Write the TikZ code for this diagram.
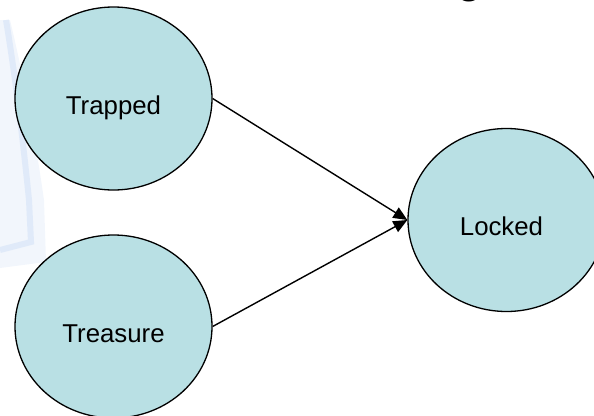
\documentclass[tikz,border=0pt]{standalone}
\usepackage{fontspec}
\setmainfont{Liberation Sans}
\usetikzlibrary{shapes.geometric,arrows.meta}
\definecolor{bubble}{RGB}{185,224,228}
\definecolor{wmark}{RGB}{224,234,249}
\definecolor{wmarklight}{RGB}{242,246,252}

\begin{document}
\begin{tikzpicture}[x=1pt,y=-1pt,
  state/.style={ellipse,draw=black,line width=1.3pt,fill=bubble,
    minimum width=197pt,minimum height=183pt,inner sep=0pt},
  caption/.style={font=\fontsize{25.8}{30}\selectfont,
    text height=31pt,text depth=0pt,inner sep=0pt},
  link/.style={line width=1.4pt,-{Triangle[length=14pt,width=12pt]}}]

  \useasboundingbox (0,0) rectangle (594,415);
  \clip (0,0) rectangle (594,415);

  % faint backdrop mark on the left
  \fill[wmarklight] (0,20) -- (10,20) .. controls (22,70) and (34,130) .. (44,200)
    -- (46,262) -- (0,268) -- cycle;
  \draw[wmark,line width=6pt] (6,20) .. controls (16,80) and (24,150) .. (29,200)
    -- (31,242) -- (0,250);

  % tail of the heading
  \node[font=\bfseries\fontsize{40}{48}\selectfont,anchor=base,inner sep=0pt]
    (headtail) at (470,-6.4) {g};

  % states
  \node[state] (trapped)  at (113.5,98.5)  {};
  \node[state] (treasure) at (113.5,326.5) {};
  \node[state] (locked)   at (506.5,220)   {};

  \node[caption] (trappedtxt)  at (trapped.center)  {Trapped};
  \node[caption] (treasuretxt) at (treasure.center) {Treasure};
  \node[caption,xshift=-5pt] (lockedtxt) at (locked.center) {Locked};

  % transitions
  \draw[link] (trapped.east)  -- (locked.west);
  \draw[link] (treasure.east) -- (locked.west);
\end{tikzpicture}
\end{document}
